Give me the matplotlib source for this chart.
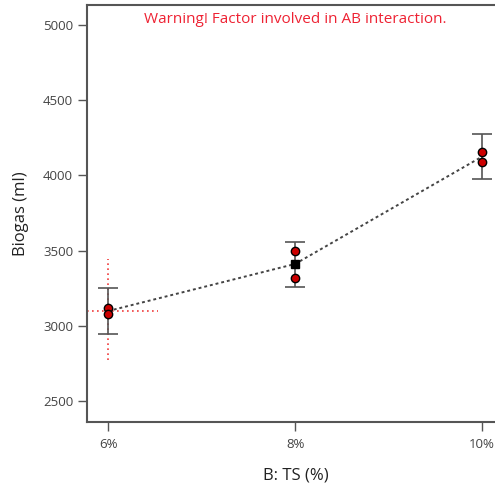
import matplotlib.pyplot as plt

# Biogas yield vs total solids level
ts_levels = [6, 8, 10]
ts_labels = ['6%', '8%', '10%']
means = [3098, 3411, 4125]
ci_low = [2945, 3260, 3978]
ci_high = [3249, 3555, 4275]

# observed runs at each level
obs_x = [6, 6, 8, 8, 10, 10]
obs_y = [3118, 3078, 3499, 3316, 4158, 4091]

# crosshair on the 6% prediction
cross_x = [5.775, 6.53]
cross_y = [2773, 3444]


def main():
  plt.rcParams['font.family'] = ['Open Sans', 'DejaVu Sans']
  fig = plt.figure(figsize=(4.95, 4.88), dpi=100)
  ax = fig.add_axes([0.1758, 0.1352, 0.8444, 0.8545])

  ax.plot(cross_x, [means[0], means[0]], color='#f03c3c', ls=(0, (1, 2)), lw=1.2, zorder=1)
  ax.plot([ts_levels[0], ts_levels[0]], cross_y, color='#f03c3c', ls=(0, (1, 2)), lw=1.2, zorder=1)

  yerr = [[m - lo for m, lo in zip(means, ci_low)], [hi - m for m, hi in zip(means, ci_high)]]
  ax.errorbar(ts_levels, means, yerr=yerr, fmt='none', ecolor='#555555', elinewidth=1.2,
              capsize=7, capthick=1.2, zorder=2)
  ax.plot(ts_levels, means, color='#444444', ls=(0, (1.5, 1.5)), lw=1.4, zorder=3)
  ax.plot(ts_levels[1:2], means[1:2], 's', color='black', ms=6, zorder=4)
  ax.scatter(obs_x, obs_y, s=36, color='#cc0000', edgecolors='black', linewidths=1, zorder=5)

  ax.set_xlim(5.775, 10.245)
  ax.set_ylim(2360, 5133)
  ax.set_xticks(ts_levels)
  ax.set_xticklabels(ts_labels)
  ax.set_yticks([2500, 3000, 3500, 4000, 4500, 5000])
  ax.tick_params(axis='both', direction='out', length=6.5, width=1, color='#555555',
                 labelsize=9.5, labelcolor='#444444')
  ax.tick_params(axis='y', pad=3.5)
  ax.tick_params(axis='x', pad=5)

  for side in ['left', 'bottom', 'top']:
    ax.spines[side].set_color('#555555')
    ax.spines[side].set_linewidth(1.5)
  ax.spines['right'].set_visible(False)

  ax.set_xlabel('B: TS (%)', fontsize=12, color='#222222', labelpad=12)
  ax.set_ylabel('Biogas (ml)', fontsize=12, color='#222222', labelpad=10)

  ax.text(8, 5035, 'Warning! Factor involved in AB interaction.', color='#ee2233',
          fontsize=11, ha='center', va='center')

  plt.savefig('out.png', dpi=100)


if __name__ == "__main__":
  main()
